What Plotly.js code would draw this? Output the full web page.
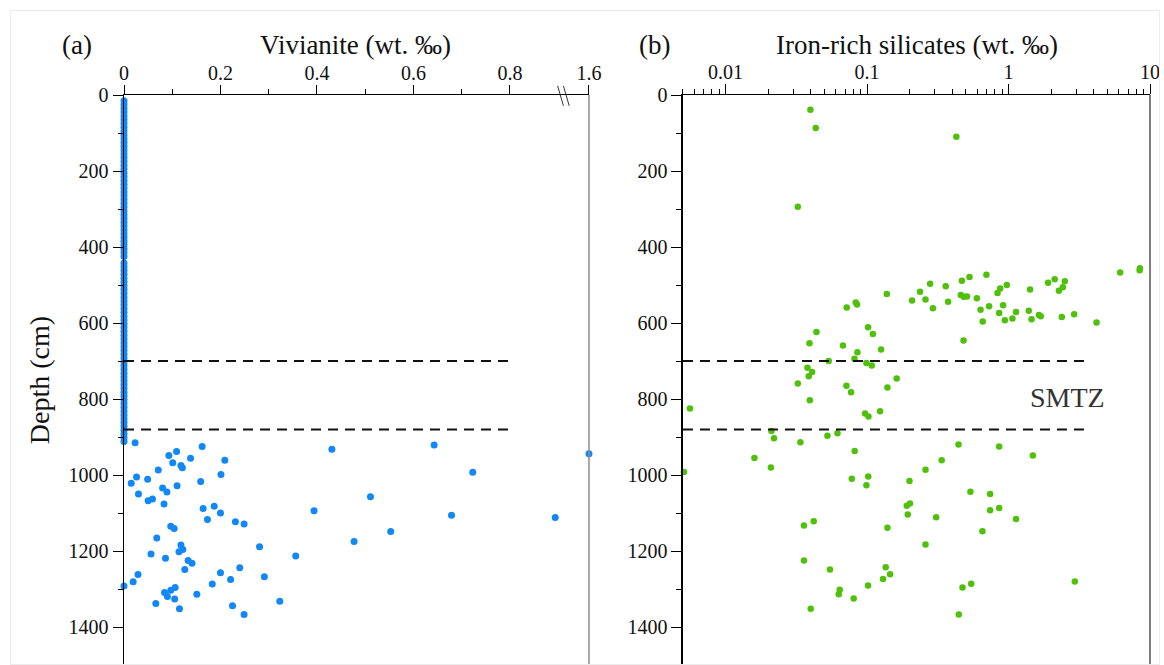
<!DOCTYPE html>
<html>
<head>
<meta charset="utf-8">
<script src="https://cdn.plot.ly/plotly-3.0.1.min.js"></script>
<style>
  html, body { margin: 0; padding: 0; background: #fff; }
  #wrap { position: relative; width: 1164px; height: 665px; }
  #chart { width: 1164px; height: 665px; }
  #frame { position: absolute; left: 10px; top: 10px; width: 1148px; height: 653px;
           border: 1px solid #ececec; pointer-events: none; }
</style>
</head>
<body>
<div id="wrap">
  <div id="chart"></div>
  <div id="frame"></div>
</div>
<script>
// ---- Panel (a): vivianite content (wt. ‰) versus depth (cm) ----
const vivianiteDepth = [
  15, 25, 35, 45, 55, 65, 75, 85, 95, 105, 115, 125, 135, 145, 155, 165, 175, 185, 195, 205,
  215, 225, 235, 245, 255, 265, 275, 285, 295, 305, 315, 325, 335, 345, 355, 365, 375, 385, 395, 405,
  415, 425,
  442, 452, 462, 472, 482, 492, 502, 512, 522, 532, 542, 552, 562, 572, 582, 592, 602, 612, 622, 632,
  642, 652, 662, 672, 682, 692, 702, 712, 722, 732, 742, 752, 762, 772, 782, 792, 802, 812, 822, 832,
  842, 852, 862, 872, 882, 892, 902, 912,
  915, 925, 938, 949, 956, 961, 968, 975, 981, 987, 999, 1005, 1011, 1017, 1022, 1028, 1034, 1045,
  1050, 1063, 1068, 1076, 1082, 1088, 1100, 1117, 1123, 1129, 1135, 1141, 1166, 1184, 1189, 1196,
  1202, 1208, 1213, 1219, 1225, 1232, 1249, 1244, 1257, 1262, 1268, 1275, 1281, 1287, 1292, 1296,
  1303, 1309, 1314, 1320, 1326, 1332, 1338, 1344, 1367, 1352,
  932, 1094, 1057, 1175, 1149, 921, 993, 1106, 1112, 944
];
const vivianiteValue = [
  0, 0, 0, 0, 0, 0, 0, 0, 0, 0, 0, 0, 0, 0, 0, 0, 0, 0, 0, 0,
  0, 0, 0, 0, 0, 0, 0, 0, 0, 0, 0, 0, 0, 0, 0, 0, 0, 0, 0, 0,
  0, 0,
  0, 0, 0, 0, 0, 0, 0, 0, 0, 0, 0, 0, 0, 0, 0, 0, 0, 0, 0, 0,
  0, 0, 0, 0, 0, 0, 0, 0, 0, 0, 0, 0, 0, 0, 0, 0, 0, 0, 0, 0,
  0, 0, 0, 0, 0, 0, 0, 0,
  0.023, 0.162, 0.109, 0.093, 0.138, 0.209, 0.101, 0.118, 0.121, 0.071, 0.201, 0.026, 0.049, 0.159, 0.015, 0.110, 0.080, 0.089,
  0.030, 0.059, 0.050, 0.083, 0.187, 0.164, 0.200, 0.173, 0.231, 0.249, 0.097, 0.104, 0.068, 0.118, 0.281, 0.122,
  0.114, 0.056, 0.356, 0.086, 0.133, 0.141, 0.126, 0.240, 0.200, 0.029, 0.291, 0.221, 0.019, 0.183, 0, 0.106,
  0.097, 0.084, 0.151, 0.090, 0.105, 0.323, 0.066, 0.225, 0.249, 0.115,
  0.431, 0.394, 0.511, 0.477, 0.553, 0.643, 0.723, 0.679, 0.894, 1.6
];
const vivianiteTickVals = [0, 0.2, 0.4, 0.6, 0.8, 1.6];
const vivianiteTickText = ['0', '0.2', '0.4', '0.6', '0.8', '1.6'];
const vivianiteMinorTicks = [0.1, 0.3, 0.5, 0.7];

// ---- Panel (b): iron-rich silicates (wt. ‰) versus depth (cm) ----
const silicateDepth = [
  39, 87, 110, 294, 456, 461, 467, 473, 479, 485, 494, 490, 489, 497, 500, 503, 509, 506, 512, 515,
  521, 518, 524, 526, 531, 530, 535, 541, 538, 544, 546, 551, 553, 556, 571, 568, 565, 561, 559, 574,
  579, 582, 577, 584, 588, 590, 593, 596, 599, 611, 624, 629, 646, 653, 659, 670, 677, 694, 700, 705,
  712, 718, 729, 740, 746,
  759, 765, 782, 770, 803, 825, 838, 846, 832, 884, 903, 890, 897, 914, 920, 925, 937, 949, 955, 961,
  980, 986, 992, 1016, 1010, 1004, 1027, 1044, 1050, 1075, 1081, 1087, 1093, 1104, 1111, 1116, 1122,
  1133, 1139, 1148, 1183, 1225, 1249, 1243, 1261, 1274, 1280, 1286, 1296, 1291, 1302, 1314, 1325,
  1352, 1367
];
const silicateValue = [
  0.0398, 0.0434, 0.428, 0.0324, 8.49, 8.45, 6.15, 0.698, 0.530, 2.12, 1.905, 2.50, 0.468, 0.279, 0.973, 0.360, 0.873, 2.42, 1.42, 2.27,
  0.836, 0.237, 0.138, 0.460, 0.483, 0.509, 0.597, 0.208, 0.259, 0.374, 0.0832, 0.0850, 0.916, 0.729, 1.13, 1.39, 0.634, 0.292, 0.0718, 0.859,
  1.64, 1.69, 2.91, 2.38, 1.066, 1.455, 0.942, 0.657, 4.19, 0.1017, 0.0439, 0.110, 0.481, 0.0392, 0.0676, 0.1256, 0.0855, 0.0815, 0.0536, 0.099,
  0.108, 0.0379, 0.0409, 0.0387, 0.162,
  0.0324, 0.0715, 0.0771, 0.1394, 0.0394, 0.0056, 0.0968, 0.1023, 0.1236, 0.0211, 0.0220, 0.0618, 0.0525, 0.0338, 0.443, 0.859, 0.0818, 1.486, 0.0160, 0.337,
  0.0209, 0.259, 0.00508, 0.1995, 0.078, 0.102, 0.099, 0.538, 0.741, 0.201, 0.191, 0.859, 0.741, 0.194, 0.308, 1.13, 0.0420,
  0.0358, 0.1394, 0.654, 0.259, 0.0358, 0.0547, 0.1355, 0.1455, 0.1297, 2.94, 0.545, 0.473, 0.1017, 0.0641, 0.0631, 0.0805,
  0.0400, 0.445
];
const silicateTickVals = [0.01, 0.1, 1, 10];
const silicateTickText = ['0.01', '0.1', '1', '10'];

// SMTZ (sulfate–methane transition zone) bounds, cm
const smtzBounds = [700, 880];
const depthRange = [1500, 0];

// Broken vivianite axis: values past the break are squeezed into the last segment.
const BREAK_AT = 0.9;
const AXIS_END_VALUE = 1.6;
const AXIS_END_POS = 0.964;
function placeVivianite(v) {
  if (v <= BREAK_AT) return v;
  return BREAK_AT + (v - BREAK_AT) * (AXIS_END_POS - BREAK_AT) / (AXIS_END_VALUE - BREAK_AT);
}

// Log-axis decade minor ticks
const silicateMinorTicks = [];
[0.001, 0.01, 0.1, 1].forEach(function (d) {
  for (let k = 2; k <= 9; k++) silicateMinorTicks.push(+(k * d).toPrecision(3));
});

const FONT = 'Liberation Serif, Times New Roman, serif';
const BLUE = '#1288f6';
const GREEN = '#4fc10a';

const traces = [
  {
    type: 'scatter', mode: 'markers', xaxis: 'x', yaxis: 'y',
    x: vivianiteValue.map(placeVivianite), y: vivianiteDepth,
    marker: { color: BLUE, size: 7, line: { width: 0 } },
    cliponaxis: false, hoverinfo: 'skip'
  },
  {
    type: 'scatter', mode: 'lines', xaxis: 'x', yaxis: 'y',
    x: [0, 0.8, null, 0, 0.8],
    y: [smtzBounds[0], smtzBounds[0], null, smtzBounds[1], smtzBounds[1]],
    line: { color: '#111', width: 2, dash: '10px,7px' }, hoverinfo: 'skip'
  },
  {
    type: 'scatter', mode: 'markers', xaxis: 'x2', yaxis: 'y2',
    x: silicateValue, y: silicateDepth,
    marker: { color: GREEN, size: 6.5, line: { width: 0 } },
    cliponaxis: false, hoverinfo: 'skip'
  },
  {
    type: 'scatter', mode: 'lines', xaxis: 'x2', yaxis: 'y2',
    x: [0.005, 3.7, null, 0.005, 3.7],
    y: [smtzBounds[0], smtzBounds[0], null, smtzBounds[1], smtzBounds[1]],
    line: { color: '#111', width: 2, dash: '10px,7px' }, hoverinfo: 'skip'
  }
];

const tickFont = { family: FONT, size: 20, color: '#111' };
const titleFont = { family: FONT, size: 27, color: '#111' };

function depthAxis(anchor) {
  return {
    anchor: anchor, range: depthRange, autorange: false,
    showline: true, linecolor: '#000', linewidth: 1.5,
    ticks: 'outside', ticklen: 10, tickwidth: 1, tickcolor: '#000',
    dtick: 200, tick0: 0, tickfont: tickFont,
    minor: { dtick: 100, tick0: 0, ticks: 'outside', ticklen: 5, tickcolor: '#000', tickwidth: 1 },
    showgrid: false, zeroline: false
  };
}

const yaxis1 = depthAxis('x');
yaxis1.title = { text: 'Depth (cm)', font: { family: FONT, size: 28, color: '#111' }, standoff: 10 };
const yaxis2 = depthAxis('x2');

const layout = {
  width: 1164, height: 665,
  margin: { l: 124, r: 14, t: 95, b: 0 },
  paper_bgcolor: '#fff', plot_bgcolor: '#fff',
  showlegend: false,
  font: { family: FONT, color: '#111' },
  xaxis: {
    domain: [0, 0.4532], anchor: 'y', side: 'top',
    range: [0, AXIS_END_POS], autorange: false,
    showline: true, linecolor: '#000', linewidth: 1.2,
    ticks: 'outside', ticklen: 9, tickwidth: 1, tickcolor: '#000',
    tickvals: vivianiteTickVals.map(placeVivianite), ticktext: vivianiteTickText,
    tickfont: tickFont, ticklabelstandoff: -3,
    minor: { tickvals: vivianiteMinorTicks, ticks: 'outside', ticklen: 5, tickcolor: '#000', tickwidth: 1 },
    showgrid: false, zeroline: false
  },
  yaxis: yaxis1,
  xaxis2: {
    domain: [0.5448, 1], anchor: 'y2', side: 'top', type: 'log',
    range: [Math.log10(0.005), 1], autorange: false,
    showline: true, linecolor: '#000', linewidth: 1.2,
    ticks: 'outside', ticklen: 10, tickwidth: 1, tickcolor: '#000',
    tickvals: silicateTickVals, ticktext: silicateTickText, tickfont: tickFont, ticklabelstandoff: -3,
    minor: { tickvals: silicateMinorTicks, ticks: 'outside', ticklen: 5, tickcolor: '#000', tickwidth: 1 },
    showgrid: false, zeroline: false
  },
  yaxis2: yaxis2,
  shapes: [
    // right edge of each panel
    { type: 'line', xref: 'paper', yref: 'paper', x0: 0.4532, x1: 0.4532, y0: 0, y1: 1,
      line: { color: '#8c8c8c', width: 1.5 } },
    { type: 'line', xref: 'paper', yref: 'paper', x0: 1, x1: 1, y0: 0, y1: 1,
      line: { color: '#555', width: 1.5 } },
    // axis-break marks on the vivianite axis
    { type: 'line', xref: 'x', yref: 'paper', x0: 0.899, x1: 0.911, y0: 1.016, y1: 0.981,
      line: { color: '#333', width: 1 } },
    { type: 'line', xref: 'x', yref: 'paper', x0: 0.911, x1: 0.923, y0: 1.016, y1: 0.981,
      line: { color: '#333', width: 1 } }
  ],
  annotations: [
    { xref: 'paper', yref: 'paper', x: -0.0458, y: 1.088, text: '(a)', showarrow: false,
      font: titleFont, xanchor: 'center', yanchor: 'middle' },
    { xref: 'paper', yref: 'paper', x: 0.5166, y: 1.088, text: '(b)', showarrow: false,
      font: titleFont, xanchor: 'center', yanchor: 'middle' },
    // panel titles above the top axes
    { xref: 'paper', yref: 'paper', x: 0.2255, y: 1.088, text: 'Vivianite (wt. ‰)', showarrow: false,
      font: titleFont, xanchor: 'center', yanchor: 'middle' },
    { xref: 'paper', yref: 'paper', x: 0.7729, y: 1.088, text: 'Iron-rich silicates (wt. ‰)', showarrow: false,
      font: titleFont, xanchor: 'center', yanchor: 'middle' },
    { xref: 'x2', yref: 'y2', x: Math.log10(2.6), y: 797, text: 'SMTZ', showarrow: false,
      font: { family: FONT, size: 28, color: '#333' }, xanchor: 'center', yanchor: 'middle' }
  ]
};

Plotly.newPlot('chart', traces, layout, { staticPlot: true, displayModeBar: false });
</script>
</body>
</html>
